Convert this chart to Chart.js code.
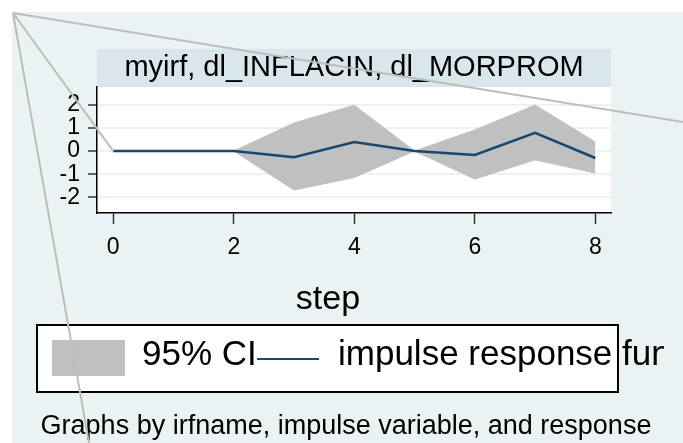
<!DOCTYPE html>
<html>
<head>
<meta charset="utf-8">
<title>myirf, dl_INFLACIN, dl_MORPROM</title>
<script src="https://cdn.jsdelivr.net/npm/chart.js"></script>
<style>
  html, body { margin: 0; padding: 0; background: #fff; }
  #wrap { width: 683px; height: 443px; }
</style>
</head>
<body>
<div id="wrap"><canvas id="irfChart" width="683" height="443"></canvas></div>
<script>
// Values
const steps = [0, 1, 2, 3, 4, 5, 6, 7, 8];
const irfValues = [0, 0, 0, -0.27, 0.39, 0, -0.17, 0.78, -0.30];
const ciLower = [0, 0, 0, -1.68, -1.14, 0, -1.21, -0.38, -0.95];
const ciUpper = [0, 0, 0, 1.21, 1.97, 0, 0.91, 1.98, 0.39];
const xTicks = [0, 2, 4, 6, 8];
const yTicks = [-2, -1, 0, 1, 2];
const panelTitle = 'myirf, dl_INFLACIN, dl_MORPROM';
const xAxisTitle = 'step';
const legendLabels = ['95% CI', 'impulse response function'];
const footNote = 'Graphs by irfname, impulse variable, and response';

const FONT = '"Liberation Sans", Arial, sans-serif';
const BG = '#eaf2f3';
const BAND = '#d9e6eb';
const CI_GREY = '#c0c0c0';
const IRF_BLUE = '#1a476f';

function toPoints(values) {
  return steps.map((s, i) => ({ x: s, y: values[i] }));
}

// -------------------------------------------------------------
// Stata-like frame: backgrounds, title band, legend, note
// -------------------------------------------------------------
const stataFrame = {
  id: 'stataFrame',
  beforeDraw(chart) {
    const { ctx, chartArea: a, width, height } = chart;
    ctx.save();
    ctx.fillStyle = '#fff';
    ctx.fillRect(0, 0, width, height);
    ctx.fillStyle = BG;
    ctx.fillRect(12, 12, width - 12, height - 12);
    // title band above the plot region
    ctx.fillStyle = BAND;
    ctx.fillRect(a.left, 49, a.right - a.left, a.top - 49);
    ctx.fillStyle = '#fff';
    ctx.fillRect(a.left, a.top, a.right - a.left, a.bottom - a.top);
    ctx.restore();
  },
  afterDraw(chart) {
    const { ctx, chartArea: a, scales } = chart;
    ctx.save();
    ctx.fillStyle = '#000';
    ctx.textBaseline = 'alphabetic';

    // panel title
    ctx.font = '29px ' + FONT;
    ctx.textAlign = 'center';
    ctx.fillText(panelTitle, (a.left + a.right) / 2, 76);

    // x axis title
    ctx.font = '34px ' + FONT;
    ctx.fillText(xAxisTitle, 328, 309);

    // legend box
    ctx.fillStyle = '#fff';
    ctx.fillRect(37, 325, 581, 67);
    ctx.lineWidth = 2;
    ctx.strokeStyle = '#000';
    ctx.strokeRect(37, 325, 581, 67);

    const ciSet = chart.data.datasets[1];
    const irfSet = chart.data.datasets[0];
    ctx.fillStyle = ciSet.backgroundColor;
    ctx.fillRect(52, 340, 73, 36);

    ctx.font = '35px ' + FONT;
    ctx.textAlign = 'left';
    ctx.fillStyle = '#000';
    ctx.fillText(ciSet.label, 142, 365);

    ctx.strokeStyle = irfSet.borderColor;
    ctx.lineWidth = 2;
    ctx.beginPath();
    ctx.moveTo(257, 359);
    ctx.lineTo(319, 359);
    ctx.stroke();

    // the long label runs past the box and gets cut at the graph edge
    ctx.save();
    ctx.beginPath();
    ctx.rect(0, 0, 664, chart.height);
    ctx.clip();
    ctx.fillStyle = '#000';
    ctx.fillText(irfSet.label, 338, 365);
    ctx.restore();

    // note
    ctx.font = '27px ' + FONT;
    ctx.textAlign = 'center';
    ctx.fillStyle = '#000';
    ctx.fillText(footNote, 346, 434);

    // grey pointer lines drawn over the screenshot
    const x0 = scales.x.getPixelForValue(steps[0]);
    const y0 = scales.y.getPixelForValue(irfValues[0]);
    ctx.strokeStyle = '#bdbdbd';
    ctx.lineWidth = 2;
    ctx.beginPath();
    ctx.moveTo(13, 13); ctx.lineTo(683, 122);
    ctx.moveTo(13, 13); ctx.lineTo(x0, y0);
    ctx.moveTo(13, 13); ctx.lineTo(89, 443);
    ctx.stroke();
    ctx.restore();
  }
};

const ctx = document.getElementById('irfChart').getContext('2d');
new Chart(ctx, {
  type: 'line',
  data: {
    datasets: [
      {
        label: legendLabels[1],
        data: toPoints(irfValues),
        borderColor: IRF_BLUE,
        borderWidth: 2.5,
        pointRadius: 0,
        fill: false,
        tension: 0
      },
      {
        label: legendLabels[0],
        data: toPoints(ciUpper),
        borderColor: CI_GREY,
        borderWidth: 1,
        backgroundColor: CI_GREY,
        pointRadius: 0,
        fill: '+1',
        tension: 0
      },
      {
        label: 'lower',
        data: toPoints(ciLower),
        borderColor: CI_GREY,
        borderWidth: 1,
        backgroundColor: CI_GREY,
        pointRadius: 0,
        fill: false,
        tension: 0
      }
    ]
  },
  options: {
    responsive: false,
    animation: false,
    devicePixelRatio: 1,
    layout: { padding: { top: 87, right: 72, bottom: 170, left: 0 } },
    plugins: {
      legend: { display: false },
      tooltip: { enabled: false },
      title: { display: false }
    },
    scales: {
      x: {
        type: 'linear',
        min: -0.27,
        max: 8.26,
        afterBuildTicks: (s) => { s.ticks = xTicks.map(v => ({ value: v })); },
        afterFit: (s) => { s.height = 60; },
        ticks: { color: '#000', padding: 10, font: { family: FONT, size: 23 } },
        grid: { drawOnChartArea: false, drawTicks: true, tickLength: 11, tickColor: '#333', tickWidth: 1.5 },
        border: { color: '#000', width: 1.5 }
      },
      y: {
        min: -2.67,
        max: 2.76,
        afterBuildTicks: (s) => { s.ticks = yTicks.map(v => ({ value: v })); },
        afterFit: (s) => { s.width = 97; },
        ticks: { color: '#000', padding: 8, font: { family: FONT, size: 23 } },
        grid: { color: BG, lineWidth: 2, tickColor: '#333', tickLength: 9, tickWidth: 1.5 },
        border: { color: '#000', width: 1.5 }
      }
    }
  },
  plugins: [stataFrame]
});
</script>
</body>
</html>
